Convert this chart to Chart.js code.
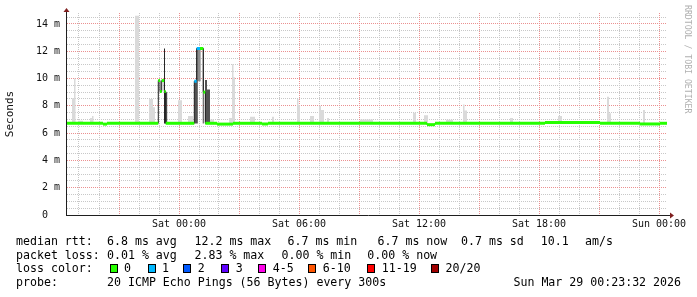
<!DOCTYPE html>
<html>
<head>
<meta charset="utf-8">
<script src="https://cdn.jsdelivr.net/npm/chart.js@4.4.1/dist/chart.umd.min.js"></script>
<style>
  html, body { margin: 0; padding: 0; background: #fff; }
  #wrap { position: relative; width: 697px; height: 297px; overflow: hidden; background: #fff; }
  #graph { position: absolute; left: 0; top: 0; }
  .txt { position: absolute; font-family: 'DejaVu Sans Mono', monospace; font-size: 11.6px; line-height: 14px; color: #000; white-space: pre; }
  .box { position: absolute; width: 8px; height: 9px; box-sizing: border-box; border: 1px solid #000; }
  #rrd { position: absolute; left: 683px; top: 5px; writing-mode: vertical-rl; font-family: 'DejaVu Sans Mono', monospace; font-size: 8.2px; line-height: 10px; color: #b0b0b0; white-space: pre; }
</style>
</head>
<body>
<div id="wrap">
  <canvas id="graph" width="697" height="297"></canvas>
  <div id="rrd">RRDTOOL / TOBI OETIKER</div>
</div>
<script>
// time is in hours relative to Sat 00:00 (graph runs Fri 18:24 .. Sun 00:24)
const T_START = -5.6;
const T_END = 24.4;
const Y_MAX = 14.8;

const labelHours = [0, 6, 12, 18, 24];
const labelTexts = ['Sat 00:00', 'Sat 06:00', 'Sat 12:00', 'Sat 18:00', 'Sun 00:00'];

// median rtt (ms), stepped: value holds from each time until the next
const medianTimes  = [-5.6, -3.8, -3.6, -1.035, -0.95, -0.865, -0.735, -0.665, 0.765, 0.885, 1.05, 1.215, 1.315, 1.9, 2.7, 4.15, 4.45, 12.4, 12.8, 18.3, 21.05, 23.05, 24.05];
const medianValues = [6.72, 6.66, 6.72, 9.85, 9.05, 9.85, 9.05, 6.72, 9.8, 12.2, 12.2, 9.0, 6.72, 6.66, 6.72, 6.67, 6.72, 6.62, 6.72, 6.77, 6.72, 6.67, 6.72];
const medianLoss   = [0, 0, 0, 0, 0, 0, 0, 0, 1, 1, 0, 0, 0, 0, 0, 0, 0, 0, 0, 0, 0, 0, 0];

// smoke: outer (light) spread top, baseline 6.7 ms
const outerTimes = [-5.6, -5.35, -5.25, -5.175, -5.05, -4.8, -4.45, -4.35, -4.275, -2.2, -2.0, -1.5, -1.3, -1.2, -0.05, 0.15, 0.45, 0.7,
  1.55, 1.75, 2.5, 2.65, 2.725, 2.8, 3.55, 3.8, 4.65, 4.75, 5.9, 5.975, 6.05, 6.55, 6.75, 7.0, 7.1, 7.25, 7.4, 7.5, 9.05, 9.7,
  11.7, 11.85, 12.25, 12.45, 13.35, 13.7, 14.2, 14.275, 14.4, 16.55, 16.7, 18.95, 19.15, 21.4, 21.5, 21.6, 23.2, 23.3];
const outerTops  = [6.7, 8.55, 10.0, 6.7, 6.9, 6.7, 7.1, 7.25, 6.7, 14.6, 6.7, 8.5, 7.9, 6.7, 8.4, 6.7, 7.25, 6.7,
  7.0, 6.7, 7.1, 11.05, 10.1, 6.7, 7.2, 6.7, 7.2, 6.7, 8.5, 8.05, 6.7, 7.25, 6.7, 8.0, 7.7, 6.7, 7.1, 6.7, 7.0, 6.7,
  7.5, 6.7, 7.3, 6.7, 6.97, 6.7, 8.1, 7.65, 6.7, 7.1, 6.7, 7.25, 6.7, 8.67, 7.45, 6.7, 7.7, 6.7];

// dense smoke (dark) around the loss events
const darkTimes = [-0.72, -0.59, 0.765, 0.86, 0.94, 1.3, 1.4, 1.55];
const darkTops  = [9.0, 6.7, 9.8, 12.2, 6.7, 9.9, 9.2, 6.7];
const coreTimes = [-0.75, -0.7, 1.19, 1.24];
const coreTops  = [12.2, 6.7, 12.2, 6.7];
const midTimes  = [0.94, 1.09];
const midTops   = [12.1, 12.1];
const MID_BASE = 9.8;

// legend
const rttKinds  = ['avg', 'max', 'min', 'now', 'sd'];
const rttValues = [6.8, 12.2, 6.7, 6.7, 0.7];
const amsValue  = 10.1;
const lossKinds = ['avg', 'max', 'min', 'now'];
const lossPct   = [0.01, 2.83, 0.00, 0.00];
const lossColors = ['#26ff00', '#00b8ff', '#0059ff', '#5e00ff', '#ff00ea', '#ff5500', '#ff0000', '#a00000'];
const lossLabels = ['0', '1', '2', '3', '4-5', '6-10', '11-19', '20/20'];
const probeText = '20 ICMP Echo Pings (56 Bytes) every 300s';
const stampText = 'Sun Mar 29 00:23:32 2026';

function steps(times, vals, end) {
    const pts = times.map((t, i) => ({ x: t, y: vals[i] }));
    if (end !== undefined) pts.push({ x: end, y: vals[vals.length - 1] });
    return pts;
}

// thick loss-coloured horizontal runs, broken between steps
const greenPts = [];
medianTimes.forEach((t, i) => {
    const t1 = i + 1 < medianTimes.length ? medianTimes[i + 1] : T_END;
    const c = lossColors[medianLoss[i]];
    greenPts.push({ x: t, y: medianValues[i], c: c });
    greenPts.push({ x: t1, y: medianValues[i], c: c });
    greenPts.push({ x: t1, y: null, c: c });
});

const MINOR = '#c8c8c8';
const MAJOR = '#eb9090';
const MONO = "'DejaVu Sans Mono', monospace";

const hourTicks = [];
for (let h = Math.ceil(T_START); h <= T_END; h++) hourTicks.push(h);
const msTicks = [];
for (let v = 0; v < Y_MAX; v += 0.5) msTicks.push(v);

// rrdtool style dotted grid: grey every hour / 0.5 ms, red every 3 h / 2 ms
const rrdGrid = {
    id: 'rrdGrid',
    beforeDatasetsDraw(chart) {
        const { ctx, chartArea: a, scales } = chart;
        const hLine = (row, color) => {
            ctx.fillStyle = color;
            for (let px = a.left; px < a.right; px += 2) ctx.fillRect(px, row, 1, 1);
        };
        const vLine = (col, color) => {
            ctx.fillStyle = color;
            for (let py = a.top; py < a.bottom; py += 2) ctx.fillRect(col, py, 1, 1);
        };
        ctx.save();
        for (const major of [false, true]) {
            hourTicks.forEach(h => {
                if ((Math.abs(h) % 3 === 0) === major) vLine(Math.floor(scales.x.getPixelForValue(h)), major ? MAJOR : MINOR);
            });
            msTicks.forEach(v => {
                if (v > 0 && (v % 2 === 0) === major) hLine(Math.floor(scales.y.getPixelForValue(v)), major ? MAJOR : MINOR);
            });
        }
        ctx.restore();
    }
};

const rrdAxes = {
    id: 'rrdAxes',
    afterDraw(chart) {
        const { ctx, chartArea: a } = chart;
        ctx.save();
        ctx.lineWidth = 1;
        ctx.strokeStyle = '#1f1f1f';
        ctx.beginPath();
        ctx.moveTo(a.left - 0.5, a.bottom + 1);
        ctx.lineTo(a.left - 0.5, a.top - 2);
        ctx.moveTo(a.left - 1, a.bottom + 0.5);
        ctx.lineTo(a.right + 4, a.bottom + 0.5);
        ctx.stroke();
        ctx.fillStyle = '#7f1f1f';
        ctx.beginPath();
        ctx.moveTo(a.left - 0.5, a.top - 5);
        ctx.lineTo(a.left - 3.5, a.top - 1);
        ctx.lineTo(a.left + 2.5, a.top - 1);
        ctx.closePath();
        ctx.fill();
        ctx.beginPath();
        ctx.moveTo(a.right + 7, a.bottom + 0.5);
        ctx.lineTo(a.right + 3, a.bottom - 2.5);
        ctx.lineTo(a.right + 3, a.bottom + 3.5);
        ctx.closePath();
        ctx.fill();
        ctx.restore();
    }
};

new Chart(document.getElementById('graph'), {
    type: 'line',
    data: {
        datasets: [
            {
                data: greenPts, order: 0, borderWidth: 3, borderColor: lossColors[0],
                segment: { borderColor: ctx => greenPts[ctx.p0DataIndex].c }
            },
            { data: steps(medianTimes, medianValues, T_END), order: 1, stepped: 'before', borderWidth: 1, borderColor: '#1e1e1e' },
            { data: steps(coreTimes, coreTops), order: 2, stepped: 'before', borderWidth: 0, fill: { value: 6.7 }, backgroundColor: '#262626' },
            { data: steps(midTimes, midTops), order: 3, stepped: 'before', borderWidth: 0, fill: { value: MID_BASE }, backgroundColor: '#8c8c8c' },
            { data: steps(darkTimes, darkTops), order: 4, stepped: 'before', borderWidth: 0, fill: { value: 6.7 }, backgroundColor: '#525252' },
            { data: steps(outerTimes, outerTops, T_END), order: 5, stepped: 'before', borderWidth: 0, fill: { value: 6.7 }, backgroundColor: '#dadada' }
        ]
    },
    options: {
        responsive: false,
        animation: false,
        devicePixelRatio: 1,
        layout: { padding: { top: 13, right: 30, left: 0, bottom: 0 } },
        elements: { point: { radius: 0 } },
        plugins: { legend: { display: false }, tooltip: { enabled: false } },
        scales: {
            x: {
                type: 'linear', min: T_START, max: T_END,
                afterBuildTicks: s => { s.ticks = hourTicks.map(v => ({ value: v })); },
                afterFit: s => { s.height = 82; },
                grid: { display: false, drawTicks: false },
                border: { display: false },
                ticks: {
                    autoSkip: false, maxRotation: 0, padding: 3.5, color: '#111',
                    font: { family: MONO, size: 10 },
                    callback: v => { const k = labelHours.indexOf(v); return k >= 0 ? labelTexts[k] : ''; }
                }
            },
            y: {
                type: 'linear', min: 0, max: Y_MAX,
                afterBuildTicks: s => { s.ticks = msTicks.map(v => ({ value: v })); },
                afterFit: s => { s.width = 67; },
                grid: { display: false, drawTicks: false },
                border: { display: false },
                title: { display: true, text: 'Seconds', color: '#111', font: { family: MONO, size: 11 }, padding: { top: 3.5, bottom: 0 } },
                ticks: {
                    autoSkip: false, padding: 7, color: '#111',
                    font: { family: MONO, size: 10 },
                    callback: v => {
                        if (v % 2 !== 0) return '';
                        return v === 0 ? ' 0  ' : String(v).padStart(2, ' ') + ' m';
                    }
                }
            }
        }
    },
    plugins: [rrdGrid, rrdAxes]
});

// text legend under the graph
const wrap = document.getElementById('wrap');
function addText(x, yc, s, right) {
    const d = document.createElement('div');
    d.className = 'txt';
    d.textContent = s;
    d.style.top = (yc - 7) + 'px';
    if (right) d.style.right = (697 - x) + 'px'; else d.style.left = x + 'px';
    wrap.appendChild(d);
}
const rowY = [241, 254.7, 268.4, 282.1];
const rttX = [107, 194.5, 287.5, 377.5, 461];
const lossX = [107, 194.5, 281.5, 367.3];
const boxX = [109.5, 147.5, 183.2, 221.2, 258.3, 308.3, 367.3, 431];

addText(16, rowY[0], 'median rtt:');
rttKinds.forEach((k, i) => addText(rttX[i], rowY[0], rttValues[i].toFixed(1) + ' ms ' + k));
addText(540.7, rowY[0], amsValue.toFixed(1));
addText(585, rowY[0], 'am/s');

addText(16, rowY[1], 'packet loss:');
lossKinds.forEach((k, i) => addText(lossX[i], rowY[1], lossPct[i].toFixed(2) + ' % ' + k));

addText(16, rowY[2], 'loss color:');
lossLabels.forEach((lab, i) => {
    const b = document.createElement('div');
    b.className = 'box';
    b.style.left = boxX[i] + 'px';
    b.style.top = (rowY[2] - 4.5) + 'px';
    b.style.background = lossColors[i];
    wrap.appendChild(b);
    addText(boxX[i] + 14.5, rowY[2], lab);
});

addText(16, rowY[3], 'probe:');
addText(107, rowY[3], probeText);
addText(681, rowY[3], stampText, true);
</script>
</body>
</html>
